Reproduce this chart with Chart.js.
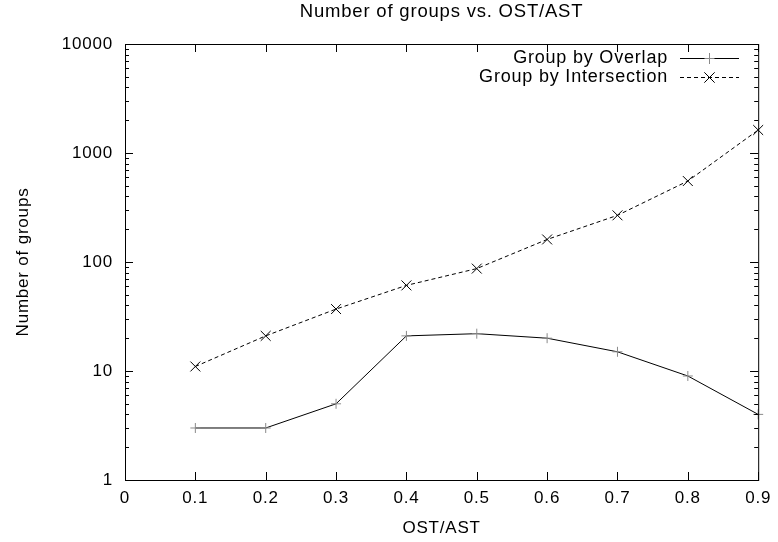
<!DOCTYPE html>
<html>
<head>
<meta charset="utf-8">
<script src="https://cdn.jsdelivr.net/npm/chart.js@4/dist/chart.umd.min.js"></script>
<style>
  html, body { margin: 0; padding: 0; background: #fff; }
  #wrap { width: 778px; height: 542px; }
</style>
</head>
<body>
<div id="wrap"><canvas id="chart"></canvas></div>
<script>
// data
const ostAst = [0.1, 0.2, 0.3, 0.4, 0.5, 0.6, 0.7, 0.8, 0.9];
const groupByOverlap = [3, 3, 5, 21, 22, 20, 15, 9, 4];
const groupByIntersection = [11, 21, 37, 61, 87, 161, 268, 553, 1625];
const yTickValues = [1, 10, 100, 1000, 10000];
const xTickValues = [0, 0.1, 0.2, 0.3, 0.4, 0.5, 0.6, 0.7, 0.8, 0.9];
const chartTitle = 'Number of groups vs. OST/AST';

const FONT = 'Liberation Sans, Arial, sans-serif';

// gnuplot-ish box with inward ticks on all four sides, title over the plot area, legend at top right
const gnuplotFrame = {
    id: 'gnuplotFrame',
    beforeDraw(chart) {
        // gnuplot's text is a bit wider than Liberation Sans
        chart.ctx.letterSpacing = '0.8px';
    },
    afterDatasetsDraw(chart) {
        const { ctx, chartArea: a, scales } = chart;
        const xs = scales.x, ys = scales.y;
        ctx.save();
        ctx.strokeStyle = '#000';
        ctx.lineWidth = 1;
        ctx.strokeRect(a.left + 0.5, a.top + 0.5, a.right - a.left, a.bottom - a.top);

        ctx.beginPath();
        xTickValues.forEach(v => {
            const px = Math.round(xs.getPixelForValue(v)) + 0.5;
            ctx.moveTo(px, a.bottom); ctx.lineTo(px, a.bottom - 8);
            ctx.moveTo(px, a.top); ctx.lineTo(px, a.top + 8);
        });
        for (let d = 1; d < 10000; d *= 10) {
            for (let m = 1; m <= 10; m++) {
                const v = d * m;
                const py = Math.round(ys.getPixelForValue(v)) + 0.5;
                const len = (m === 1 || m === 10) ? 8 : 4;
                ctx.moveTo(a.left, py); ctx.lineTo(a.left + len, py);
                ctx.moveTo(a.right, py); ctx.lineTo(a.right - len, py);
            }
        }
        ctx.stroke();

        // title, centred on the plot area like gnuplot does
        ctx.fillStyle = '#000';
        ctx.font = '18.5px ' + FONT;
        ctx.textAlign = 'center';
        ctx.textBaseline = 'middle';
        ctx.fillText(chartTitle, (a.left + a.right) / 2, 12);

        // legend
        ctx.font = '18px ' + FONT;
        ctx.textAlign = 'right';
        chart.data.datasets.forEach((ds, i) => {
            const y = 58 + i * 19;
            ctx.fillText(ds.label, 668, y);
            ctx.beginPath();
            ctx.strokeStyle = '#000';
            ctx.setLineDash(ds.borderDash || []);
            ctx.moveTo(680, y + 0.5); ctx.lineTo(739, y + 0.5);
            ctx.stroke();
            ctx.setLineDash([]);
            Chart.helpers.drawPoint(ctx, {
                pointStyle: ds.pointStyle, radius: ds.pointRadius,
                borderWidth: 1
            }, 709.5, y + 0.5);
            ctx.strokeStyle = ds.pointBorderColor;
            ctx.stroke();
        });
        ctx.restore();
    }
};

new Chart(document.getElementById('chart'), {
    type: 'line',
    data: {
        datasets: [{
            label: 'Group by Overlap',
            data: ostAst.map((x, i) => ({ x: x, y: groupByOverlap[i] })),
            borderColor: '#000',
            borderWidth: 1,
            pointStyle: 'cross',
            pointRadius: 5,
            pointBorderColor: '#8a8a8a',
            pointBorderWidth: 1,
            fill: false,
            clip: false
        }, {
            label: 'Group by Intersection',
            data: ostAst.map((x, i) => ({ x: x, y: groupByIntersection[i] })),
            borderColor: '#000',
            borderWidth: 1,
            borderDash: [4, 3],
            pointStyle: 'crossRot',
            pointRadius: 7,
            pointBorderColor: '#000',
            pointBorderWidth: 1,
            fill: false,
            clip: false
        }]
    },
    options: {
        responsive: true,
        maintainAspectRatio: false,
        animation: false,
        devicePixelRatio: 1,
        layout: { padding: { top: 44, right: 12, bottom: 0, left: 0 } },
        plugins: {
            legend: { display: false },
            tooltip: { enabled: false },
            title: { display: false }
        },
        scales: {
            x: {
                type: 'linear',
                min: 0,
                max: 0.9,
                afterBuildTicks: s => { s.ticks = xTickValues.map(v => ({ value: v })); },
                afterFit: s => { s.height = 62; },
                grid: { display: false, drawTicks: false },
                border: { display: false },
                ticks: {
                    color: '#000',
                    padding: 8,
                    font: { family: FONT, size: 17 },
                    callback: v => String(v)
                },
                title: {
                    display: true,
                    text: 'OST/AST',
                    color: '#000',
                    font: { family: FONT, size: 17 },
                    padding: { top: 0, bottom: 3 }
                }
            },
            y: {
                type: 'logarithmic',
                min: 1,
                max: 10000,
                afterBuildTicks: s => { s.ticks = yTickValues.map(v => ({ value: v })); },
                afterFit: s => { s.width = 125; },
                grid: { display: false, drawTicks: false },
                border: { display: false },
                ticks: {
                    color: '#000',
                    padding: 12,
                    font: { family: FONT, size: 17 },
                    callback: v => String(v)
                },
                title: {
                    display: true,
                    text: 'Number of groups',
                    color: '#000',
                    font: { family: FONT, size: 17 },
                    padding: { top: 13, bottom: 0 }
                }
            }
        }
    },
    plugins: [gnuplotFrame]
});
</script>
</body>
</html>
